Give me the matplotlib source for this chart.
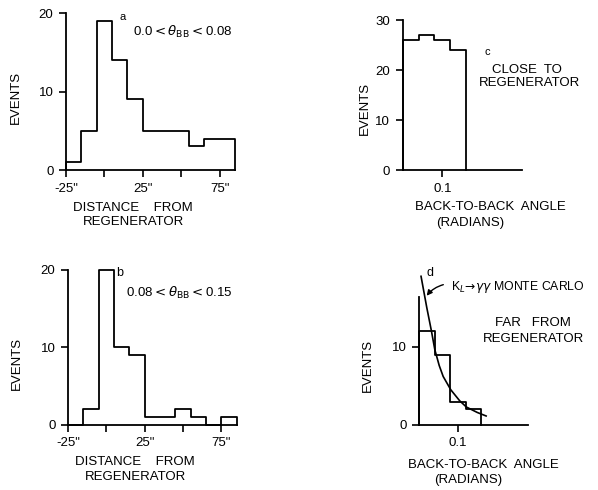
import numpy as np
import matplotlib
matplotlib.use('Agg')
import matplotlib.pyplot as plt

plt.rcParams['font.family'] = ['Liberation Sans', 'DejaVu Sans']
plt.rcParams['font.size'] = 9.5
plt.rcParams['mathtext.fontset'] = 'dejavusans'

# panel a / b: events vs distance from regenerator (inches)
dist_edges = [-25, -15, -5, 5, 15, 25, 35, 45, 55, 65, 75, 85]
events_a = [1, 5, 19, 14, 9, 5, 5, 5, 3, 4, 4]
events_b = [0, 2, 20, 10, 9, 1, 1, 2, 1, 0, 1]
dist_ticks = [-25, 0, 25, 50, 75]
dist_ticklabels = ['-25"', '', '25"', '', '75"']

# panel c / d: events vs back-to-back angle (radians)
ang_edges = [0.05, 0.07, 0.09, 0.11, 0.13]
events_c = [26, 27, 26, 24]
events_d = [12, 9, 3, 2]

# K_L -> gamma gamma Monte Carlo curve
mc_x = [0.0526, 0.0600, 0.0660, 0.0704, 0.0760, 0.0811, 0.0909, 0.1023, 0.1109, 0.1250, 0.1364]
mc_y = [19.0, 15.0, 12.0, 9.6, 7.6, 6.2, 4.5, 3.1, 2.3, 1.6, 1.15]

fig = plt.figure(figsize=(5.98, 4.9), dpi=100)

def frame(ax):
    for s in ['top', 'right']:
        ax.spines[s].set_visible(False)
    for s in ['left', 'bottom']:
        ax.spines[s].set_linewidth(1.3)
    ax.tick_params(direction='out', length=5, width=1.2, pad=4, labelsize=9.5)

def step_hist(ax, edges, vals):
    e = np.asarray(edges, float)
    v = np.asarray(vals, float)
    xs = np.repeat(e, 2)
    ys = np.concatenate([[0], np.repeat(v, 2), [0]])
    ax.plot(xs, ys, color='black', lw=1.3, clip_on=False)

# ---- a
ax_a = fig.add_axes([0.1104, 0.653, 0.2826, 0.3204])
step_hist(ax_a, dist_edges, events_a)
ax_a.set_xlim(-25, 85)
ax_a.set_ylim(0, 20)
ax_a.set_xticks(dist_ticks)
ax_a.set_xticklabels(dist_ticklabels)
ax_a.set_yticks([0, 10, 20])
frame(ax_a)

# ---- b
ax_b = fig.add_axes([0.1137, 0.1327, 0.282, 0.3163])
step_hist(ax_b, dist_edges, events_b)
ax_b.set_xlim(-25, 85)
ax_b.set_ylim(0, 20)
ax_b.set_xticks(dist_ticks)
ax_b.set_xticklabels(dist_ticklabels)
ax_b.set_yticks([0, 10, 20])
frame(ax_b)

# ---- c
ax_c = fig.add_axes([0.6734, 0.653, 0.199, 0.306])
step_hist(ax_c, ang_edges, events_c)
ax_c.set_xlim(0.05, 0.2)
ax_c.set_ylim(0, 30)
ax_c.set_xticks([0.1])
ax_c.set_xticklabels(['0.1'])
ax_c.set_yticks([0, 10, 20, 30])
frame(ax_c)

# ---- d
ax_d = fig.add_axes([0.7007, 0.1327, 0.1818, 0.2619])
step_hist(ax_d, ang_edges, events_d)
ax_d.plot(mc_x, mc_y, color='black', lw=1.2, clip_on=False)
ax_d.set_xlim(0.05, 0.19)
ax_d.set_ylim(0, 16.4)
ax_d.set_xticks([0.1])
ax_d.set_xticklabels(['0.1'])
ax_d.set_yticks([0, 10])
frame(ax_d)

# ---- texts (figure pixel positions -> fraction)
W, H = 598.0, 490.0
def ftext(x, y, s, **kw):
    fig.text(x / W, 1 - y / H, s, ha=kw.pop('ha', 'center'), va=kw.pop('va', 'center'), **kw)

ftext(16, 97, 'EVENTS', rotation=90)
ftext(17, 363, 'EVENTS', rotation=90)
ftext(365, 108, 'EVENTS', rotation=90)
ftext(368, 365, 'EVENTS', rotation=90)

ftext(133, 208, 'DISTANCE    FROM')
ftext(133, 222, 'REGENERATOR')
ftext(135, 462, 'DISTANCE    FROM')
ftext(135, 477, 'REGENERATOR')

ftext(490, 207, 'BACK-TO-BACK  ANGLE')
ftext(470, 223, '(RADIANS)')
ftext(483, 465, 'BACK-TO-BACK  ANGLE')
ftext(468, 480, '(RADIANS)')

ftext(123, 17, 'a', fontsize=8)
ftext(133, 32, r'0.0$<\theta_{\rm BB}<$0.08', ha='left')
ftext(120, 273, 'b', fontsize=9)
ftext(126, 293, r'0.08$<\theta_{\rm BB}<$0.15', ha='left')

ftext(487, 52, 'c', fontsize=8)
ftext(527, 70, 'CLOSE  TO')
ftext(529, 83, 'REGENERATOR')

ftext(430, 273, 'd', fontsize=9)
ftext(451, 287, r'K$_L$$\!\rightarrow\!\gamma\gamma$ MONTE CARLO', ha='left', fontsize=8.8)
ftext(533, 323, 'FAR   FROM')
ftext(533, 339, 'REGENERATOR')

ax_d.annotate('', xy=(425 / W, 1 - 298 / H), xycoords='figure fraction',
              xytext=(446 / W, 1 - 284 / H), textcoords='figure fraction',
              arrowprops=dict(arrowstyle='-|>', color='black', lw=1.0,
                              connectionstyle='arc3,rad=0.2', mutation_scale=8))

fig.savefig('out.png', dpi=100)
